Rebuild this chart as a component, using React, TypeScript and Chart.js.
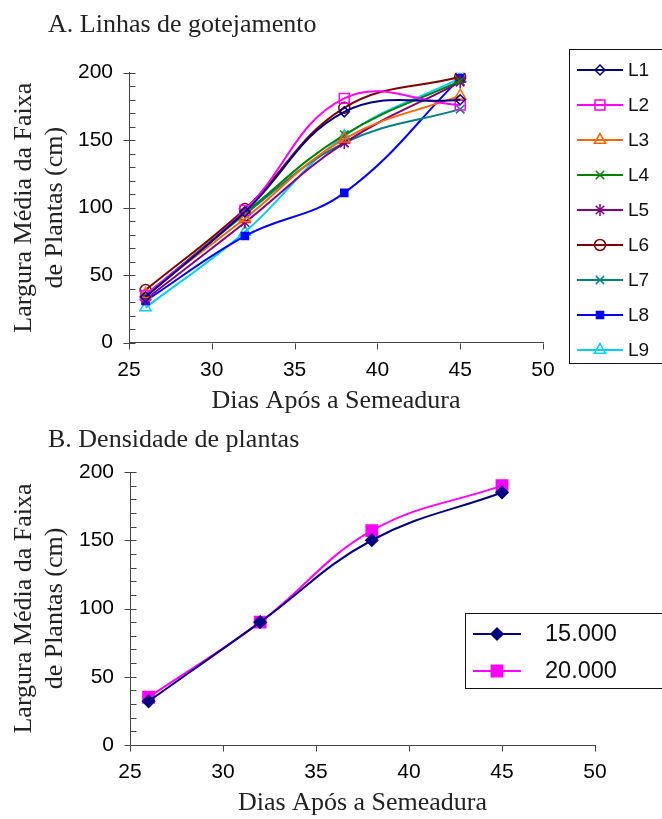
import React, { useEffect, useRef } from 'react';
import { Chart, registerables } from 'chart.js';
import { drawPoint } from 'chart.js/helpers';

Chart.register(...registerables);

// ---------- data ----------
const days = [26, 32, 38, 45];

// Panel A: drip lines
const lineLabels = ['L1', 'L2', 'L3', 'L4', 'L5', 'L6', 'L7', 'L8', 'L9'];
const L1 = [34, 97, 171, 180];
const L2 = [35, 98, 181, 176];
const L3 = [36, 92, 151, 183];
const L4 = [35, 96, 154, 194];
const L5 = [32, 89, 148, 193];
const L6 = [39, 99, 174, 197];
const L7 = [34, 95, 148, 173];
const L8 = [31, 79, 111, 196];
const L9 = [26, 82, 153, 196];
const lineValues = [L1, L2, L3, L4, L5, L6, L7, L8, L9];

// Panel B: plant density
const densityLabels = ['15.000', '20.000'];
const D15 = [32, 90, 150, 185];
const D20 = [35, 90, 157, 190];
const densityValues = [D15, D20];

// axes
const xMin = 25;
const xMax = 50;
const xStep = 5;
const yMin = 0;
const yMax = 200;
const yStep = 50;
const yMinorStep = 10;

const titleA = 'A. Linhas de gotejamento';
const titleB = 'B. Densidade de plantas';
const xTitle = 'Dias Após a Semeadura';
const yTitle = ['Largura Média da Faixa', 'de Plantas (cm)'];

// ---------- styles ----------
const SERIF = "'Liberation Serif', 'Times New Roman', serif";
const SANS = "'Liberation Sans', Arial, sans-serif";
const TEXT = '#222';
const AXIS = '#444';

const styleA = [
  { color: '#000080', pointStyle: 'rectRot', radius: 5, open: true },
  { color: '#FF00FF', pointStyle: 'rect', radius: 7, open: true },
  { color: '#FF6600', pointStyle: 'triangle', radius: 6.5, open: true },
  { color: '#008000', pointStyle: 'crossRot', radius: 6, open: true },
  { color: '#800080', pointStyle: 'star', radius: 6, open: true },
  { color: '#800000', pointStyle: 'circle', radius: 5.5, open: true },
  { color: '#008080', pointStyle: 'crossRot', radius: 6, open: true },
  { color: '#0000FF', pointStyle: 'rect', radius: 5, open: false },
  { color: '#00CCFF', pointStyle: 'triangle', radius: 6.5, open: true },
];
const styleB = [
  { color: '#000080', pointStyle: 'rectRot', radius: 6, open: false },
  { color: '#FF00FF', pointStyle: 'rect', radius: 8, open: false },
];

// ---------- plugins ----------
const headingPlugin = {
  id: 'heading',
  afterDraw(chart: any, _a: any, o: any) {
    const ctx = chart.ctx;
    ctx.save();
    ctx.font = `${o.size}px ${SERIF}`;
    ctx.fillStyle = TEXT;
    ctx.textAlign = 'left';
    ctx.textBaseline = 'alphabetic';
    ctx.fillText(o.text, o.x, o.y);
    ctx.restore();
  },
};

const ticksPlugin = {
  id: 'excelTicks',
  afterDraw(chart: any) {
    const { ctx, scales } = chart;
    const x = scales.x;
    const y = scales.y;
    const ax = Math.round(x.left) + 0.5;
    const ay = Math.round(y.bottom) + 0.5;
    ctx.save();
    ctx.strokeStyle = AXIS;
    ctx.lineWidth = 1;
    ctx.beginPath();
    for (let v = yMin; v <= yMax; v += yMinorStep) {
      const py = Math.round(y.getPixelForValue(v)) + 0.5;
      const major = v % yStep === 0;
      ctx.moveTo(ax - (major ? 6 : 0), py);
      ctx.lineTo(ax + 6, py);
    }
    for (let v = xMin; v <= xMax; v += xStep) {
      const px = Math.round(x.getPixelForValue(v)) + 0.5;
      ctx.moveTo(px, ay);
      ctx.lineTo(px, ay + 6);
    }
    ctx.stroke();
    ctx.restore();
  },
};

const boxLegendPlugin = {
  id: 'boxLegend',
  afterDraw(chart: any, _a: any, o: any) {
    const ctx = chart.ctx;
    ctx.save();
    ctx.fillStyle = '#fff';
    ctx.fillRect(o.left, o.top, o.right - o.left, o.bottom - o.top);
    ctx.strokeStyle = '#111';
    ctx.lineWidth = 1;
    ctx.strokeRect(o.left + 0.5, o.top + 0.5, o.right - o.left, o.bottom - o.top);
    chart.data.datasets.forEach((ds: any, i: number) => {
      const yy = o.firstY + i * o.gap;
      ctx.strokeStyle = ds.borderColor;
      ctx.lineWidth = ds.borderWidth;
      ctx.beginPath();
      ctx.moveTo(o.lineX0, yy);
      ctx.lineTo(o.lineX1, yy);
      ctx.stroke();
      ctx.fillStyle = ds.pointBackgroundColor;
      ctx.strokeStyle = ds.pointBorderColor;
      ctx.lineWidth = ds.pointBorderWidth;
      drawPoint(
        ctx,
        { pointStyle: ds.pointStyle, radius: ds.pointRadius, rotation: 0, borderWidth: ds.pointBorderWidth },
        (o.lineX0 + o.lineX1) / 2,
        yy
      );
      ctx.fillStyle = '#111';
      ctx.font = `${o.fontSize}px ${SANS}`;
      ctx.textAlign = 'left';
      ctx.textBaseline = 'middle';
      ctx.fillText(ds.label, o.textX, yy + 1);
    });
    ctx.restore();
  },
};

function makeDatasets(labels: string[], values: number[][], styles: any[]) {
  return labels.map((label, i) => {
    const s = styles[i];
    return {
      label,
      data: days.map((d, j) => ({ x: d, y: values[i][j] })),
      borderColor: s.color,
      backgroundColor: s.color,
      borderWidth: 2,
      tension: 0.4,
      fill: false,
      pointStyle: s.pointStyle,
      pointRadius: s.radius,
      pointHoverRadius: s.radius,
      pointBorderColor: s.color,
      pointBackgroundColor: s.open ? 'rgba(255,255,255,0)' : s.color,
      pointBorderWidth: 1.5,
    };
  });
}

function makeConfig(p: any) {
  return {
    type: 'line',
    data: { datasets: makeDatasets(p.labels, p.values, p.styles) },
    plugins: [headingPlugin, ticksPlugin, boxLegendPlugin],
    options: {
      responsive: false,
      animation: false,
      devicePixelRatio: 1,
      layout: { padding: { top: p.padTop, right: p.padRight, bottom: 0, left: 0 } },
      plugins: {
        legend: { display: false },
        tooltip: { enabled: false },
        heading: { text: p.title, x: 48, y: p.titleY, size: 26 },
        boxLegend: p.legend,
      },
      scales: {
        x: {
          type: 'linear',
          min: xMin,
          max: xMax,
          afterFit: (s: any) => { s.height = p.xHeight; },
          ticks: { stepSize: xStep, padding: 15, color: '#000', font: { family: SANS, size: 21 } },
          grid: { display: false, drawTicks: false },
          border: { display: true, color: AXIS, width: 1 },
          title: {
            display: true,
            text: xTitle,
            color: TEXT,
            font: { family: SERIF, size: 26 },
            padding: { top: 0, bottom: p.xTitlePad },
          },
        },
        y: {
          type: 'linear',
          min: yMin,
          max: yMax,
          afterFit: (s: any) => { s.width = p.yWidth; },
          ticks: { stepSize: yStep, padding: 16, color: '#000', font: { family: SANS, size: 21 } },
          grid: { display: false, drawTicks: false },
          border: { display: true, color: AXIS, width: 1 },
          title: {
            display: true,
            text: yTitle,
            color: TEXT,
            font: { family: SERIF, size: 26 },
            padding: { top: 8.4, bottom: 0 },
          },
        },
      },
    },
  };
}

function ChartCanvas({ cfg, width, height, top }: any) {
  const ref = useRef<HTMLCanvasElement>(null);
  useEffect(() => {
    const chart = new Chart(ref.current as HTMLCanvasElement, makeConfig(cfg) as any);
    return () => chart.destroy();
  }, []);
  return (
    <canvas
      ref={ref}
      width={width}
      height={height}
      style={{ position: 'absolute', left: 0, top, width, height, display: 'block' }}
    />
  );
}

const cfgA = {
  labels: lineLabels,
  values: lineValues,
  styles: styleA,
  title: titleA,
  titleY: 32,
  padTop: 72.7,
  padRight: 119,
  xHeight: 77.3,
  yWidth: 129,
  xTitlePad: 3.4,
  legend: {
    left: 569, top: 49, right: 670, bottom: 363,
    firstY: 70, gap: 35, lineX0: 577, lineX1: 623, textX: 628, fontSize: 19,
  },
};

const cfgB = {
  labels: densityLabels,
  values: densityValues,
  styles: styleB,
  title: titleB,
  titleY: 27,
  padTop: 52,
  padRight: 67,
  xHeight: 74,
  yWidth: 130,
  xTitlePad: 0,
  legend: {
    left: 465, top: 193, right: 670, bottom: 268,
    firstY: 214, gap: 37, lineX0: 473, lineX1: 521, textX: 545, fontSize: 23.5,
  },
};

export default function App() {
  return (
    <div style={{ position: 'absolute', left: 0, top: 0, width: 662, height: 819, background: '#fff' }}>
      <ChartCanvas cfg={cfgA} width={662} height={420} top={0} />
      <ChartCanvas cfg={cfgB} width={662} height={399} top={420} />
    </div>
  );
}
